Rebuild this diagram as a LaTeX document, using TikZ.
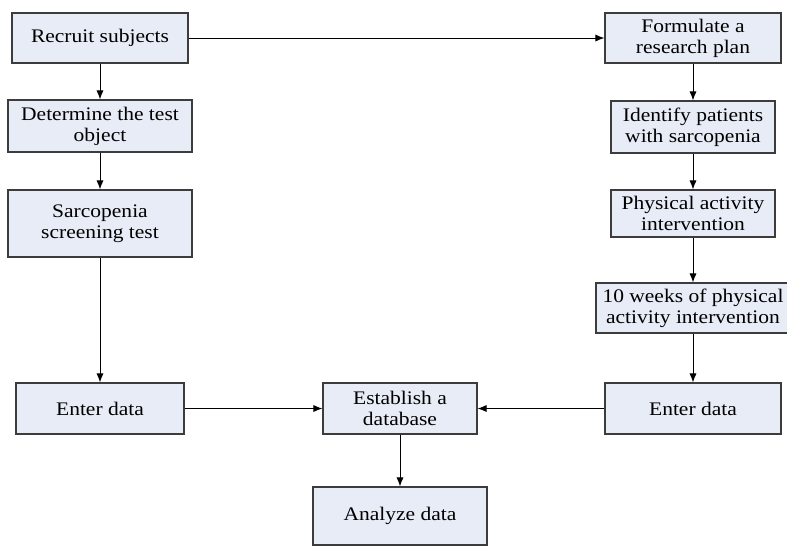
\documentclass[tikz,border=0pt]{standalone}
\usepackage{fontspec}
\setmainfont{Liberation Serif}[FakeStretch=1.12]
\usetikzlibrary{arrows.meta}
\usepackage{xcolor}
\definecolor{boxblue}{RGB}{231,236,246}
\definecolor{boxline}{RGB}{60,60,60}

\begin{document}
\begin{tikzpicture}[x=.5pt, y=-.5pt, font=\fontsize{9.6}{10.5}\selectfont,
  box/.style={draw=boxline, fill=boxblue, line width=.6pt, align=center, inner sep=0pt},
  link/.style={black, line width=.5pt, -{Latex[length=4.5pt,width=3.6pt]}}]
\useasboundingbox (0,0) rectangle (787,558);
% left column
\node[box, minimum width=88pt, minimum height=25pt] (recruit) at (100,38) {Recruit subjects};
\node[box, minimum width=92pt, minimum height=26pt] (determine) at (100,126) {Determine the test\\object};
\node[box, minimum width=92pt, minimum height=33.5pt] (screen) at (100,223.5) {Sarcopenia\\screening test};
\node[box, minimum width=84pt, minimum height=25.5pt] (enterL) at (100,408.5) {Enter data};
% right column
\node[box, minimum width=88pt, minimum height=25pt] (formulate) at (693,38) {Formulate a\\research plan};
\node[box, minimum width=82pt, minimum height=26pt] (identify) at (693,127) {Identify patients\\with sarcopenia};
\node[box, minimum width=82pt, minimum height=23.5pt] (physical) at (693,213.5) {Physical activity\\intervention};
\node[box, minimum width=97pt, minimum height=25pt] (tenweeks) at (693,308) {10 weeks of physical\\activity intervention};
\node[box, minimum width=88pt, minimum height=25.5pt] (enterR) at (693,408.5) {Enter data};
% middle
\node[box, minimum width=77pt, minimum height=25.5pt] (database) at (400,408.5) {Establish a\\database};
\node[box, minimum width=87pt, minimum height=29pt] (analyze) at (400,516) {Analyze data};

\draw[link] (recruit) -- (formulate);
\draw[link] (recruit) -- (determine);
\draw[link] (determine) -- (screen);
\draw[link] (screen) -- (enterL);
\draw[link] (formulate) -- (identify);
\draw[link] (identify) -- (physical);
\draw[link] (physical) -- (tenweeks);
\draw[link] (tenweeks) -- (enterR);
\draw[link] (enterL) -- (database);
\draw[link] (enterR) -- (database);
\draw[link] (database) -- (analyze);
\end{tikzpicture}
\end{document}
